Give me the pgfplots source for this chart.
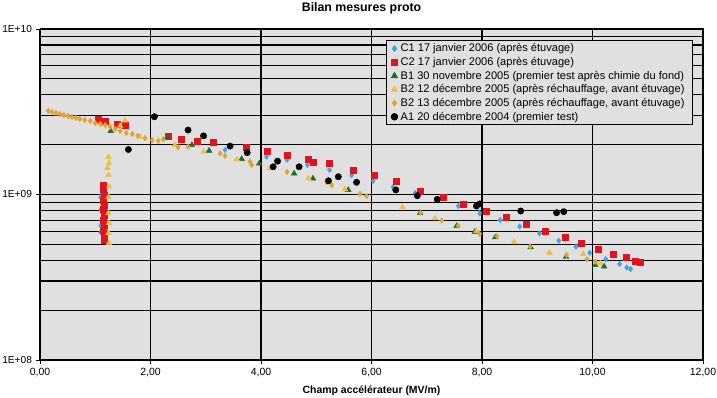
\documentclass[border=0pt]{standalone}
\usepackage{fontspec}
\setmainfont{Liberation Sans}
\usepackage{pgfplots}
\pgfplotsset{compat=1.18}
\usetikzlibrary{calc}

\definecolor{plotbg}{HTML}{E0E0E0}
\definecolor{cunBlue}{HTML}{3AA6E6}
\definecolor{cdeuxRed}{HTML}{E0141C}
\definecolor{bunGreen}{HTML}{1E6B2C}
\definecolor{bdeuxA}{HTML}{F2BC48}
\definecolor{bdeuxB}{HTML}{DDA632}

\newcommand{\smallfont}{\fontsize{10.5}{12.6}\selectfont}
\newcommand{\legfont}{\fontsize{11.1}{13}\selectfont}

\begin{document}
\begin{tikzpicture}
\begin{axis}[
  scale only axis,
  width=663bp, height=331bp,
  ymode=log,
  xmin=0, xmax=12, ymin=1e8, ymax=1e10,
  axis background/.style={fill=plotbg},
  axis line style={black, line width=1bp},
  xtick={0,2,4,6,8,10,12},
  xticklabels={{0,00},{2,00},{4,00},{6,00},{8,00},{10,00},{12,00}},
  ytick={1e8,1e9,1e10},
  yticklabels={1E+08,1E+09,1E+10},
  minor ytick={2e8,3e8,4e8,5e8,6e8,7e8,8e8,9e8,2e9,3e9,4e9,5e9,6e9,7e9,8e9,9e9},
  xmajorgrids, ymajorgrids, yminorgrids,
  major grid style={black, line width=1.1bp},
  minor grid style={black, line width=1.1bp},
  tick align=outside,
  major tick length=4bp, minor tick length=0bp,
  xtick pos=bottom, ytick pos=left,
  tick style={black, line width=0.8bp},
  tick label style={font=\smallfont},
  yticklabel style={font=\fontsize{10.2}{12}\selectfont, xshift=-0.5bp},
  xticklabel style={yshift=-1bp},
  title={Bilan mesures proto},
  title style={at={(0.485,1)}, anchor=base, yshift=11.5bp, font=\bfseries\fontsize{12.4}{14}\selectfont},
  xlabel={Champ accélérateur (MV/m)},
  xlabel style={at={(0.5,0)}, anchor=base, yshift=-34bp, font=\bfseries\smallfont},
  legend style={at={(1,1)}, anchor=north east, xshift=-10bp, yshift=-11bp,
    fill=plotbg, draw=black, line width=1bp, font=\legfont,
    row sep=2.4bp, inner xsep=5bp, inner ysep=2.5bp,
    nodes={inner xsep=3bp, inner ysep=0.8bp}},
  legend cell align=left,
  legend image code/.code={%
    \draw[mark repeat=2, mark phase=2, #1] plot coordinates {(0bp,0bp) (3.5bp,0bp) (7bp,0bp)};},
]

% C1 - 17 janvier 2006
\addplot[only marks, mark=diamond*, mark size=2.8bp, color=cunBlue] coordinates {
  (1.10,9.6e8) (1.10,8.1e8) (1.10,6.5e8) (1.10,5.9e8)
  (3.35,1.86e9) (4.10,1.69e9) (4.47,1.62e9) (4.84,1.51e9) (5.24,1.41e9)
  (5.64,1.31e9) (6.03,1.21e9) (6.39,1.11e9) (6.79,1.02e9) (7.21,9.35e8)
  (7.57,8.52e8) (7.96,7.70e8) (8.33,7.01e8) (8.68,6.41e8) (9.04,5.82e8)
  (9.39,5.26e8) (9.70,4.84e8) (9.95,4.44e8) (10.24,4.07e8) (10.49,3.80e8)
  (10.62,3.62e8) (10.69,3.54e8)
};
\addlegendentry{C1 17 janvier 2006 (après étuvage)}

% C2 - 17 janvier 2006
\addplot[only marks, mark=square*, mark size=3bp, color=cdeuxRed] coordinates {
  (1.06,2.85e9) (1.18,2.79e9) (1.39,2.67e9) (1.54,2.63e9)
  (1.15,1.14e9) (1.14,1.07e9) (1.16,9.9e8) (1.15,9.3e8) (1.16,8.6e8)
  (1.15,8.1e8) (1.16,7.5e8) (1.15,7.0e8) (1.16,6.5e8) (1.15,6.1e8)
  (1.16,5.7e8) (1.17,5.3e8)
  (2.32,2.26e9) (2.56,2.16e9) (2.84,2.09e9) (3.13,2.06e9) (3.73,1.92e9)
  (4.11,1.82e9) (4.47,1.73e9) (4.86,1.63e9) (4.94,1.57e9) (5.24,1.54e9)
  (5.67,1.41e9) (6.05,1.30e9) (6.44,1.20e9) (6.88,1.04e9) (7.29,9.66e8)
  (7.66,8.78e8) (8.07,7.97e8) (8.43,7.28e8) (8.80,6.62e8) (9.14,6.04e8)
  (9.50,5.49e8) (9.80,5.06e8) (10.10,4.67e8) (10.38,4.37e8) (10.61,4.15e8)
  (10.77,3.98e8) (10.87,3.90e8)
};
\addlegendentry{C2 17 janvier 2006 (après étuvage)}

% B1 - 30 novembre 2005
\addplot[only marks, mark=triangle*, mark size=3.3bp, color=bunGreen] coordinates {
  (1.28,2.42e9) (2.29,2.19e9) (2.75,1.99e9) (3.06,1.84e9) (3.65,1.64e9)
  (3.97,1.54e9) (4.60,1.34e9) (4.94,1.25e9) (5.58,1.065e9) (6.88,7.76e8)
  (7.54,6.45e8) (7.87,5.96e8) (8.24,5.51e8) (8.88,4.80e8) (9.52,4.20e8)
  (10.05,3.75e8) (10.21,3.67e8)
};
\addlegendentry{B1 30 novembre 2005 (premier test après chimie du fond)}

% B2 - 12 decembre 2005
\addplot[only marks, mark=triangle*, mark size=3.3bp, color=bdeuxA] coordinates {
  (1.24,1.685e9) (1.25,1.55e9) (1.22,1.445e9) (1.24,1.31e9) (1.25,1.12e9)
  (1.24,9.66e8) (1.24,7.73e8) (1.25,6.73e8) (1.24,5.85e8) (1.25,5.09e8)
  (1.45,2.60e9) (1.54,2.80e9) (1.81,2.23e9)
  (2.44,1.99e9) (2.96,1.81e9) (3.56,1.63e9) (4.16,1.44e9) (4.86,1.25e9)
  (5.52,1.075e9) (6.56,8.37e8) (7.15,7.18e8) (7.90,6.02e8) (8.58,5.14e8)
  (9.22,4.45e8) (9.83,4.37e8) (10.14,3.84e8)
};
\addlegendentry{B2 12 décembre 2005 (après réchauffage, avant étuvage)}

% B2 - 13 decembre 2005
\addplot[only marks, mark=diamond*, mark size=2.8bp, color=bdeuxB] coordinates {
  (0.15,3.20e9) (0.22,3.15e9) (0.29,3.11e9) (0.36,3.06e9) (0.43,3.02e9)
  (0.51,2.98e9) (0.58,2.94e9) (0.65,2.90e9) (0.72,2.86e9) (0.81,2.82e9)
  (0.91,2.78e9) (1.00,2.70e9) (1.09,2.67e9) (1.18,2.63e9) (1.27,2.56e9)
  (1.36,2.49e9) (1.45,2.42e9) (1.56,2.35e9) (1.67,2.32e9) (1.77,2.26e9)
  (1.90,2.19e9) (2.03,2.13e9) (2.14,2.11e9)
  (2.23,2.16e9) (2.50,1.93e9) (2.68,1.945e9) (3.26,1.77e9) (3.35,1.71e9)
  (3.80,1.58e9) (3.83,1.51e9) (4.47,1.37e9) (5.19,1.185e9) (5.28,1.14e9)
  (5.79,1.007e9) (5.91,9.79e8) (6.89,7.76e8) (7.27,6.95e8) (7.57,6.48e8)
  (7.96,5.77e8) (8.27,5.61e8) (8.87,4.84e8) (9.53,4.31e8) (9.90,4.06e8)
  (10.05,3.93e8)
};
\addlegendentry{B2 13 décembre 2005 (après réchauffage, avant étuvage)}

% A1 - 20 decembre 2004
\addplot[only marks, mark=*, mark size=3.2bp, color=black] coordinates {
  (1.60,1.87e9) (2.07,2.95e9) (2.68,2.45e9) (2.96,2.26e9) (3.44,1.96e9)
  (3.75,1.79e9) (4.22,1.47e9) (4.30,1.59e9) (4.69,1.47e9) (5.22,1.21e9)
  (5.40,1.28e9) (5.73,1.185e9) (6.44,1.065e9) (6.83,9.83e8) (7.19,9.35e8)
  (7.90,8.52e8) (7.96,8.77e8) (8.70,7.95e8) (9.35,7.76e8) (9.48,7.87e8)
};
\addlegendentry{A1 20 décembre 2004 (premier test)}

\end{axis}
\pgfresetboundingbox
\path[use as bounding box] ($(current axis.south west)+(-40bp,-38bp)$)
  rectangle ($(current axis.north east)+(14bp,29bp)$);
\end{tikzpicture}
\end{document}
